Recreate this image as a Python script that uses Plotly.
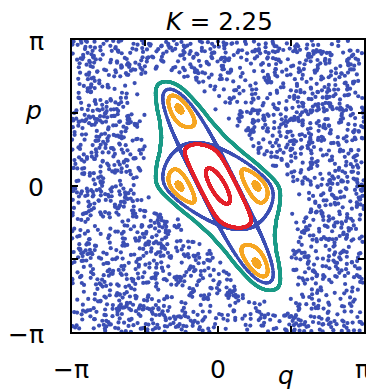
import numpy as np
import plotly.graph_objects as go

# Standard-map parameter (shown in title)
K = 2.25

# Orbits: initial conditions (q0, p0), number of iterates, colour
orbit_names = ["sea", "teal_torus", "separatrix", "orange_outer", "orange_inner", "red_outer", "red_inner"]
orbit_q0 = [3.10, 1.30, 0.001, 0.60, 0.78, 0.41, 0.17]
orbit_p0 = [0.00, 0.00, 0.83, 0.00, 0.00, 0.00, 0.00]
orbit_n = [2100, 4000, 6000, 5000, 4000, 3000, 2500]
orbit_colors = ["#3b4fb4", "#1a9a86", "#3b4fb4", "#f6a623", "#f6a623", "#e3202a", "#e3202a"]
orbit_sizes = [4.2, 3.4, 3.0, 3.4, 3.4, 3.4, 3.4]

tick_vals = [-np.pi, -np.pi / 2, 0, np.pi / 2, np.pi]


def wrap(x):
    return (x + np.pi) % (2 * np.pi) - np.pi


def iterate(q, p, n):
    qs = np.empty(n)
    ps = np.empty(n)
    for i in range(n):
        q = q + p
        p = p - K * np.sin(q)
        q = wrap(q)
        p = wrap(p)
        qs[i] = q
        ps[i] = p
    return qs, ps


fig = go.Figure()
for name, q0, p0, n, c, s in zip(orbit_names, orbit_q0, orbit_p0, orbit_n, orbit_colors, orbit_sizes):
    qs, ps = iterate(q0, p0, n)
    fig.add_trace(go.Scatter(x=qs, y=ps, mode="markers", name=name,
                             marker=dict(color=c, size=s, line=dict(width=0)),
                             hoverinfo="skip", showlegend=False))

# page has an 8px body margin; figure coordinates below are page coords - 8
OFF = 8
W, H = 366, 381
L, R, T, B = 64, 8, 32, 57
PW, PH = W - L - R, H - T - B


def px(X):
    return (X - OFF - L) / PW


def py(Y):
    return (H - B - (Y - OFF)) / PH


font = dict(family="DejaVu Sans, sans-serif", size=25, color="black")
ann = []
# y tick labels
for txt, Y in [("π", 41), ("0", 187), ("−π", 334)]:
    ann.append(dict(text=txt, x=px(46), y=py(Y), xref="paper", yref="paper",
                    xanchor="right", yanchor="middle", showarrow=False, font=font))
ann.append(dict(text="<i>p</i>", x=px(33), y=py(111), xref="paper", yref="paper",
                xanchor="center", yanchor="middle", showarrow=False, font=font))
# x tick labels
for txt, X in [("−π", 71), ("0", 219), ("π", 364)]:
    ann.append(dict(text=txt, x=px(X), y=py(369), xref="paper", yref="paper",
                    xanchor="center", yanchor="middle", showarrow=False, font=font))
ann.append(dict(text="<i>q</i>", x=px(287), y=py(375), xref="paper", yref="paper",
                xanchor="center", yanchor="middle", showarrow=False, font=font))
ann.append(dict(text="<i>K</i> = 2.25", x=px(221), y=py(22), xref="paper", yref="paper",
                xanchor="center", yanchor="middle", showarrow=False,
                font=dict(family="DejaVu Sans, sans-serif", size=24.5, color="black")))

axis_common = dict(range=[-np.pi, np.pi], showgrid=False, zeroline=False,
                   tickvals=tick_vals, showticklabels=False, ticks="inside",
                   ticklen=6, tickwidth=1.5, tickcolor="black",
                   showline=True, linecolor="black", linewidth=1.5, mirror="ticks")

fig.update_layout(
    width=W, height=H,
    margin=dict(l=L, r=R, t=T, b=B),
    paper_bgcolor="white", plot_bgcolor="white",
    xaxis=axis_common, yaxis=axis_common,
    annotations=ann,
)
fig.write_html("out.html")
